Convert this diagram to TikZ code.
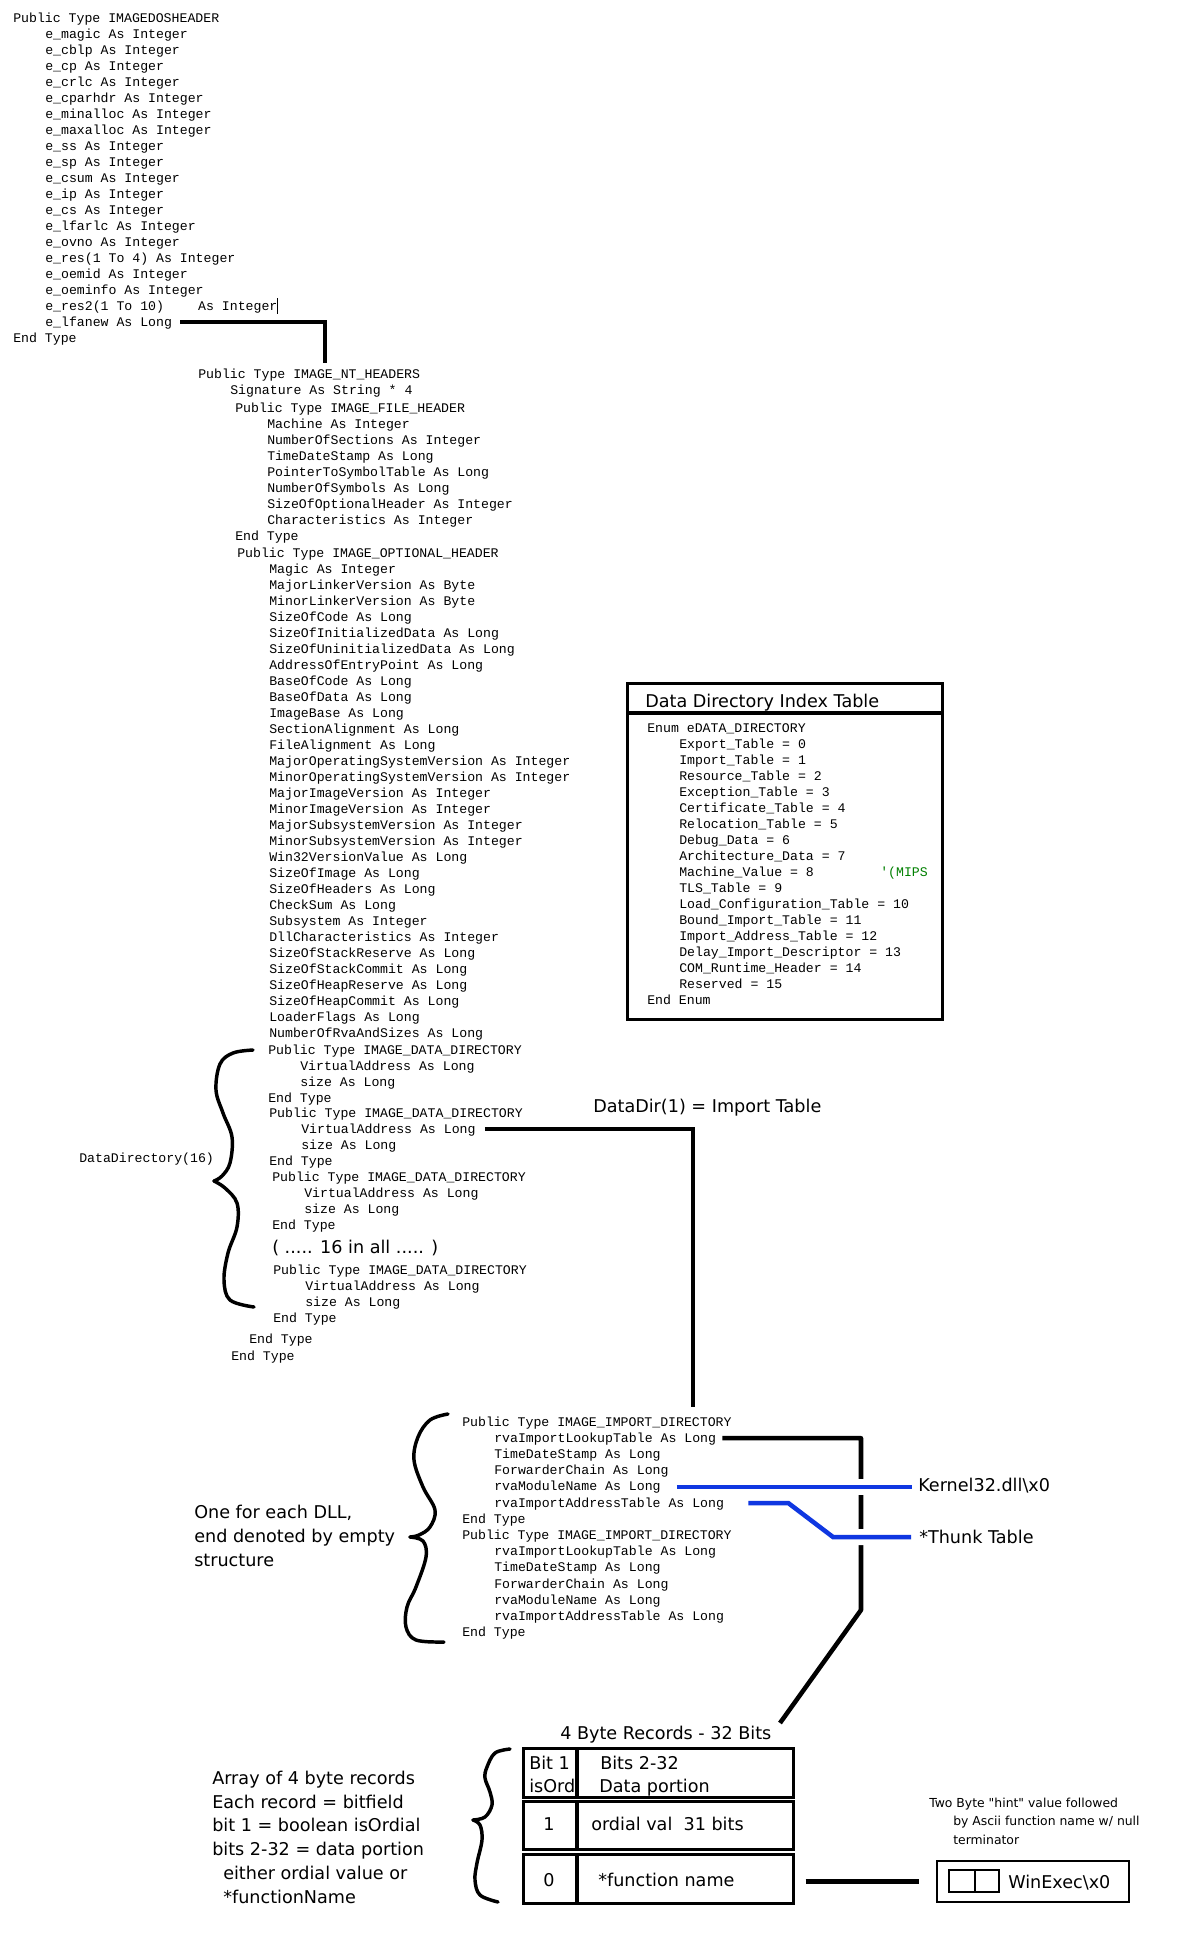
\documentclass[tikz,border=0pt]{standalone}
\usepackage{fontspec}
\setmainfont{DejaVu Sans}
\setmonofont{Liberation Mono}
\newfontfamily\hintfont{DejaVu Sans}[Ligatures=TeXOff]
\usetikzlibrary{calc}
\definecolor{lineblue}{RGB}{15,55,225}
\definecolor{cmtgreen}{RGB}{0,128,0}
\begin{document}
\begin{tikzpicture}[x=0.75pt,y=-0.75pt,
  code/.style={font=\ttfamily\fontsize{9.9}{12}\selectfont, inner sep=0pt, anchor=west, text height=8pt, text depth=2pt},
  lab/.style={font=\fontsize{13.2}{16}\selectfont, inner sep=0pt, anchor=west, text height=11.6pt, text depth=2pt},
  hint/.style={font=\hintfont\fontsize{9.3}{11}\selectfont, inner sep=0pt, anchor=west, text height=8.4pt, text depth=1.6pt},
  conn/.style={draw=black, line width=3.4pt},
  blueline/.style={draw=lineblue, line width=3.4pt, preaction={draw=white, line width=12pt}},
  brace/.style={draw=black, line width=2.6pt, line cap=round, line join=round},
  rowbox/.style={draw=black, line width=2.25pt, inner sep=0pt, minimum width=202.5pt},
]
\fill[white] (0,0) rectangle (1200,1938);
\useasboundingbox (0,0) rectangle (1200,1938);

% ---------------- IMAGEDOSHEADER ----------------
\foreach \dx/\t [count=\i from 0] in {
  0/Public Type IMAGEDOSHEADER,
  32/e\_magic As Integer,
  32/e\_cblp As Integer,
  32/e\_cp As Integer,
  32/e\_crlc As Integer,
  32/e\_cparhdr As Integer,
  32/e\_minalloc As Integer,
  32/e\_maxalloc As Integer,
  32/e\_ss As Integer,
  32/e\_sp As Integer,
  32/e\_csum As Integer,
  32/e\_ip As Integer,
  32/e\_cs As Integer,
  32/e\_lfarlc As Integer,
  32/e\_ovno As Integer,
  32/e\_res(1 To 4) As Integer,
  32/e\_oemid As Integer,
  32/e\_oeminfo As Integer,
  32/e\_res2(1 To 10)\hspace{25.6pt}As Integer,
  32/e\_lfanew As Long,
  0/End Type}
  \node[code] (dos\i) at (13+\dx,18+16*\i) {\t};
\draw[line width=0.75pt] (277,298) -- (277,314);

% ---------------- IMAGE_NT_HEADERS ----------------
\foreach \px/\py/\t [count=\i from 0] in {
  198/374/Public Type IMAGE\_NT\_HEADERS,
  230/390/Signature As String * 4,
  235/408/Public Type IMAGE\_FILE\_HEADER,
  267/424/Machine As Integer,
  267/440/NumberOfSections As Integer,
  267/456/TimeDateStamp As Long,
  267/472/PointerToSymbolTable As Long,
  267/488/NumberOfSymbols As Long,
  267/504/SizeOfOptionalHeader As Integer,
  267/520/Characteristics As Integer,
  235/536/End Type,
  237/553/Public Type IMAGE\_OPTIONAL\_HEADER}
  \node[code] (nt\i) at (\px,\py) {\t};

\foreach \t [count=\k from 0] in {
  Magic As Integer,
  MajorLinkerVersion As Byte,
  MinorLinkerVersion As Byte,
  SizeOfCode As Long,
  SizeOfInitializedData As Long,
  SizeOfUninitializedData As Long,
  AddressOfEntryPoint As Long,
  BaseOfCode As Long,
  BaseOfData As Long,
  ImageBase As Long,
  SectionAlignment As Long,
  FileAlignment As Long,
  MajorOperatingSystemVersion As Integer,
  MinorOperatingSystemVersion As Integer,
  MajorImageVersion As Integer,
  MinorImageVersion As Integer,
  MajorSubsystemVersion As Integer,
  MinorSubsystemVersion As Integer,
  Win32VersionValue As Long,
  SizeOfImage As Long,
  SizeOfHeaders As Long,
  CheckSum As Long,
  Subsystem As Integer,
  DllCharacteristics As Integer,
  SizeOfStackReserve As Long,
  SizeOfStackCommit As Long,
  SizeOfHeapReserve As Long,
  SizeOfHeapCommit As Long,
  LoaderFlags As Long,
  NumberOfRvaAndSizes As Long}
  \node[code] (opt\k) at (269,569+16*\k) {\t};

\foreach \bx/\by [count=\b from 0] in {268/1050, 269/1113, 272/1177, 273/1270} {
  \node[code] (dd\b-0) at (\bx,\by) {Public Type IMAGE\_DATA\_DIRECTORY};
  \node[code] (dd\b-1) at (\bx+32,\by+16) {VirtualAddress As Long};
  \node[code] (dd\b-2) at (\bx+32,\by+32) {size As Long};
  \node[code] (dd\b-3) at (\bx,\by+48) {End Type};
}
\node[lab] (sixteen) at (272,1247) {( ..... 16 in all ..... )};
\node[code] (ntend1) at (249,1339) {End Type};
\node[code] (ntend2) at (231,1356) {End Type};
\node[code] (ddname) at (79,1158) {DataDirectory(16)};

% brace DataDirectory
\draw[brace] plot[smooth, tension=0.6] coordinates {(253,1050) (233,1053) (220,1064) (216,1090) (223,1113) (232,1137) (230,1163) (222,1176) (214,1181)};
\draw[brace] plot[smooth, tension=0.6] coordinates {(214,1181) (225,1188) (237,1203) (237,1227) (228,1253) (224,1280) (230,1300) (254,1307)};

% ---------------- Data Directory Index Table ----------------
\node[draw, line width=2.25pt, minimum width=236.25pt, minimum height=252pt, inner sep=0pt] (ddbox) at (784.5,851) {};
\draw[line width=3.2pt] (627,713) -- (942,713);
\node[lab] (ddtitle) at (645,701) {Data Directory Index Table};
\foreach \dx/\t [count=\k from 0] in {
  0/Enum eDATA\_DIRECTORY,
  32/Export\_Table = 0,
  32/Import\_Table = 1,
  32/Resource\_Table = 2,
  32/Exception\_Table = 3,
  32/Certificate\_Table = 4,
  32/Relocation\_Table = 5,
  32/Debug\_Data = 6,
  32/Architecture\_Data = 7,
  32/Machine\_Value = 8,
  32/TLS\_Table = 9,
  32/Load\_Configuration\_Table = 10,
  32/Bound\_Import\_Table = 11,
  32/Import\_Address\_Table = 12,
  32/Delay\_Import\_Descriptor = 13,
  32/COM\_Runtime\_Header = 14,
  32/Reserved = 15,
  0/End Enum}
  \node[code] (en\k) at (647+\dx,728+16*\k) {\t};
\node[code, text=cmtgreen] (mips) at (880,872) {'(MIPS};

\node[lab] (datadir) at (593,1106) {DataDir(1) = Import Table};

% ---------------- IMAGE_IMPORT_DIRECTORY ----------------
\foreach \by [count=\b from 0] in {1422,1535.5} {
  \foreach \dx/\t [count=\k from 0] in {
    0/Public Type IMAGE\_IMPORT\_DIRECTORY,
    32/rvaImportLookupTable As Long,
    32/TimeDateStamp As Long,
    32/ForwarderChain As Long,
    32/rvaModuleName As Long,
    32/rvaImportAddressTable As Long,
    0/End Type}
    \node[code] (imp\b-\k) at (462+\dx,\by+16.2*\k) {\t};
}
\draw[brace] plot[smooth, tension=0.6] coordinates {(448,1414) (430,1420) (418,1437) (414,1460) (423,1487) (435,1510) (430,1527) (419,1535) (410,1537)};
\draw[brace] plot[smooth, tension=0.6] coordinates {(410,1537) (423,1541) (426,1557) (416,1587) (407,1607) (406,1627) (416,1640) (444,1642)};
\node[lab] (dll1) at (194,1512) {One for each DLL,};
\node[lab] (dll2) at (194,1536) {end denoted by empty};
\node[lab] (dll3) at (194,1560) {structure};

\node[lab] (kern) at (918,1485) {Kernel32.dll\textbackslash x0};
\node[lab] (thunk) at (919,1537) {*Thunk Table};

% ---------------- connectors ----------------
\coordinate (ntTop) at (325,363);
\draw[conn] ($(dos19.east)+(8,0)$) -| (ntTop);
\coordinate (impTop) at (693,1407);
\draw[conn] ($(dd1-1.east)+(9,0)$) -| (impTop);
\coordinate (lkA) at (861,1610);
\coordinate (lkB) at (780,1723);
\draw[conn, line join=round] ($(imp0-1.east)+(6,0)$) -| (lkA) -- (lkB);
\draw[blueline] ($(imp0-4.east)+(16,0)$) -- ($(kern.west |- imp0-4.east)+(-6,0)$);
\coordinate (tb) at (833,1537);
\draw[blueline] ($(imp0-5.east)+(24,0)$) -- ++(40,0) -- (tb) -- ($(thunk.west)+(-8,0)$);

% ---------------- 4 byte records ----------------
\node[lab] (recTitle) at (560,1733) {4 Byte Records - 32 Bits};
\node[rowbox, minimum height=36.75pt] (rowA) at (658,1772.5) {};
\node[rowbox, minimum height=36pt] (rowB) at (658,1825) {};
\node[rowbox, minimum height=36.75pt] (rowC) at (658,1878.5) {};
\draw[line width=2.4pt] (577,1748) -- (577,1797);
\draw[line width=2.8pt] (577,1801) -- (577,1849);
\draw[line width=2.8pt] (577,1854) -- (577,1903);
\node[lab] (bit1) at (529,1763) {Bit 1};
\node[lab] (isord) at (529,1786) {isOrd};
\node[lab] (bits) at (600,1763) {Bits 2-32};
\node[lab] (dataport) at (599,1786) {Data portion};
\node[lab, anchor=center] (one) at (549,1824) {1};
\node[lab] (ordval) at (591,1824) {ordial val\ \ 31 bits};
\node[lab, anchor=center] (zero) at (549,1880) {0};
\node[lab] (fname) at (598,1880) {*function name};

\draw[brace] plot[smooth, tension=0.6] coordinates {(510,1749) (495,1753) (487,1767) (485,1778) (490,1792) (492,1805) (485,1817) (473,1820)};
\draw[brace] plot[smooth, tension=0.6] coordinates {(473,1820) (480,1825) (482,1840) (477,1863) (475,1880) (480,1895) (498,1902)};

\node[lab] (arr1) at (212,1778) {Array of 4 byte records};
\node[lab] (arr2) at (212,1802) {Each record = bitfield};
\node[lab] (arr3) at (212,1825) {bit 1 = boolean isOrdial};
\node[lab] (arr4) at (212,1849) {bits 2-32 = data portion};
\node[lab] (arr5) at (223,1873) {either ordial value or};
\node[lab] (arr6) at (223,1897) {*functionName};

% ---------------- hint / name ----------------
\node[hint] (hint1) at (929,1803) {Two Byte "hint" value followed};
\node[hint] (hint2) at (953,1821) {by Ascii function name w/ null};
\node[hint] (hint3) at (953,1840) {terminator};
\node[draw, line width=1.1pt, minimum width=144pt, minimum height=30.75pt, inner sep=0pt] (winbox) at (1033,1881.5) {};
\draw[line width=1.5pt] (949,1870) rectangle (975,1892);
\draw[line width=1.5pt] (975,1870) rectangle (999,1892);
\node[lab] (winexec) at (1008,1882) {WinExec\textbackslash x0};
\draw[conn] ($(rowC.east |- winbox.west)+(11,0)$) -- ($(winbox.west)+(-17,0)$);
\end{tikzpicture}
\end{document}
